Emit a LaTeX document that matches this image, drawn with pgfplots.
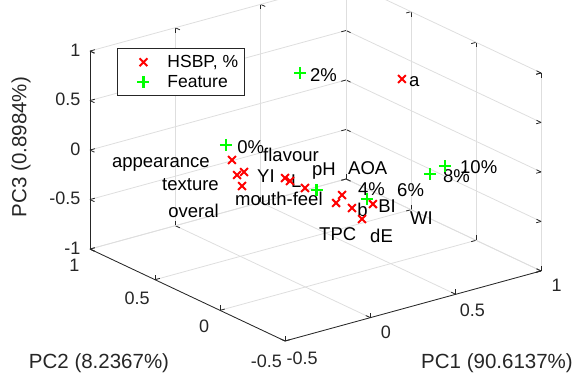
\documentclass[border=0pt]{standalone}
\usepackage{fontspec}
\setmainfont{Liberation Sans}
\usepackage{pgfplots}
\pgfplotsset{compat=1.18}
\definecolor{axgray}{gray}{0.15}
\definecolor{gridgray}{gray}{0.87}
\definecolor{mred}{rgb}{1,0,0}
\definecolor{mgreen}{rgb}{0,1,0}
\newcommand{\lbl}{\fontsize{18.5}{20}\selectfont}
\begin{document}
\begin{tikzpicture}
\begin{axis}[
  x={(170.7pt,46.7pt)}, y={(-130pt,61.3pt)}, z={(0pt,99pt)},
  xmin=-0.5, xmax=1, ymin=-0.5, ymax=1, zmin=-1, zmax=1,
  xtick={-0.5,0,0.5,1}, ytick={-0.5,0,0.5,1}, ztick={-1,-0.5,0,0.5,1},
  grid=major, grid style={gridgray, line width=0.8pt},
  axis line style={draw=none},
  tick style={axgray, line width=0.8pt}, major tick length=5pt,
  /pgf/number format/assume math mode=true,
  ticklabel style={font=\fontsize{18}{20}\selectfont, text=axgray},
  xticklabel style={xshift=9pt, yshift=-4pt},
  yticklabel style={xshift=-8pt, yshift=-6pt},
  zticklabel style={xshift=-6pt},
  clip=false,
  legend image code/.code={\path[mark repeat=2,mark phase=2,#1] plot coordinates {(0pt,0pt) (22pt,0pt) (44pt,0pt)};},
  legend style={at={(axis cs:-1.103,0,1.935)}, anchor=north west,
    draw=axgray, line width=0.8pt, font=\fontsize{17.5}{19}\selectfont,
    inner xsep=4pt, inner ysep=5pt, row sep=2pt, cells={anchor=west}},
  legend cell align=left,
]
\addplot3[draw=none, mark=x, mark size=5.5pt, mark options={draw=mred, line width=2pt, solid}] coordinates {
(0.566,0,0.834) (-0.430,0,0.486) (-0.400,0,0.320) (-0.359,0,0.331)
(-0.371,0,0.195) (-0.119,0,0.157) (-0.090,0,0.113) (-0.002,0,0.001)
(0.215,0,-0.172) (0.180,0,-0.236) (0.273,0,-0.331) (0.332,0,-0.470)
(0.396,0,-0.349)
};
\addlegendentry{HSBP, \%}
\addplot3[draw=none, mark=+, mark size=6pt, mark options={draw=mgreen, line width=2.5pt, solid}] coordinates {
(-0.465,0,0.654) (0.426,0.6,0.590) (0.066,0,-0.052) (0.361,0,-0.281)
(0.730,0,-0.203) (0.818,0,-0.164)
};
\addlegendentry{Feature}
% axis lines
\draw[axgray, line width=0.8pt] (axis cs:-0.5,-0.5,-1) -- (axis cs:1,-0.5,-1);
\draw[axgray, line width=0.8pt] (axis cs:-0.5,-0.5,-1) -- (axis cs:-0.5,1,-1);
\draw[axgray, line width=0.8pt] (axis cs:-0.5,1,-1) -- (axis cs:-0.5,1,1);
% labels
\node[anchor=west, inner sep=0, font=\lbl] at (axis cs:-0.400,0,0.603) {0\%};
\node[anchor=west, inner sep=0, font=\lbl] at (axis cs:0.484,0.6,0.542) {2\%};
\node[anchor=west, inner sep=0, font=\lbl] at (axis cs:0.308,0,-0.156) {4\%};
\node[anchor=west, inner sep=0, font=\lbl] at (axis cs:0.537,0,-0.273) {6\%};
\node[anchor=west, inner sep=0, font=\lbl] at (axis cs:0.806,0,-0.259) {8\%};
\node[anchor=west, inner sep=0, font=\lbl] at (axis cs:0.906,0,-0.215) {10\%};
\node[anchor=west, inner sep=0, font=\lbl] at (axis cs:0.607,0,0.784) {a};
\node[anchor=east, inner sep=0, font=\lbl] at (axis cs:-0.559,0,0.506) {appearance};
\node[anchor=east, inner sep=0, font=\lbl] at (axis cs:-0.506,0,0.269) {texture};
\node[anchor=east, inner sep=0, font=\lbl] at (axis cs:-0.506,0,0.006) {overal};
\node[anchor=west, inner sep=0, font=\lbl] at (axis cs:-0.283,0,0.255) {YI};
\node[anchor=west, inner sep=0, font=\lbl] at (axis cs:-0.084,0,0.110) {L};
\node[anchor=west, inner sep=0, font=\lbl] at (axis cs:-0.248,0,0.450) {flavour};
\node[anchor=west, inner sep=0, font=\lbl] at (axis cs:-0.412,0,0.083) {mouth-feel};
\node[anchor=west, inner sep=0, font=\lbl] at (axis cs:0.039,0,0.153) {pH};
\node[anchor=west, inner sep=0, font=\lbl] at (axis cs:0.250,0,0.084) {AOA};
\node[anchor=west, inner sep=0, font=\lbl] at (axis cs:0.303,0,-0.365) {b};
\node[anchor=west, inner sep=0, font=\lbl] at (axis cs:0.426,0,-0.383) {BI};
\node[anchor=west, inner sep=0, font=\lbl] at (axis cs:0.080,0,-0.502) {TPC};
\node[anchor=west, inner sep=0, font=\lbl] at (axis cs:0.379,0,-0.664) {dE};
\node[anchor=west, inner sep=0, font=\lbl] at (axis cs:0.613,0,-0.592) {WI};
% axis titles
\node[font=\fontsize{20.5}{22}\selectfont, text=axgray] at (axis cs:0.113,-1.326,-1) {PC1 (90.6137\%)};
\node[font=\fontsize{20.5}{22}\selectfont, text=axgray] at (axis cs:-1.3625,-0.202,-1) {PC2 (8.2367\%)};
\node[font=\fontsize{20.5}{22}\selectfont, text=axgray, rotate=90] at (axis cs:-0.904,1,0.221) {PC3 (0.8984\%)};
\coordinate (O) at (axis cs:-0.5,-0.5,-1);
\end{axis}
\pgfresetboundingbox
\path[use as bounding box] ([shift={(-285pt,-37pt)}]O) rectangle ([shift={(295pt,341pt)}]O);
\end{tikzpicture}
\end{document}
